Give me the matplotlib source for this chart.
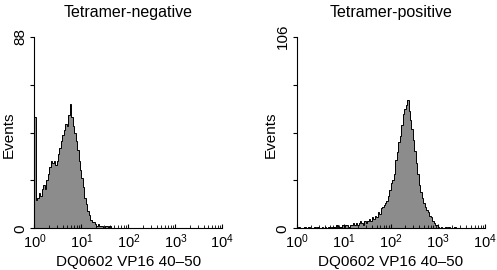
import numpy as np
import matplotlib
matplotlib.use("Agg")
import matplotlib.pyplot as plt
from matplotlib.ticker import LogLocator, NullFormatter, FixedLocator

plt.rcParams['font.family'] = ['Liberation Sans', 'DejaVu Sans']
plt.rcParams['mathtext.fontset'] = 'custom'
plt.rcParams['mathtext.rm'] = 'Liberation Sans'

# Histogram counts per channel (32 channels per decade, starting at 10^0)
neg_counts = [51, 13, 14, 16, 15, 18, 20, 18, 22, 25, 28, 31, 30, 31, 29, 31,
              34, 37, 40, 43, 45, 48, 47, 52, 57, 51, 47, 44, 40, 36, 31, 27,
              23, 19, 14, 11, 8, 6, 4, 3, 3, 2, 1, 2, 1, 1, 1, 0, 1, 1, 0, 1, 0]
pos_counts = [0, 1, 0, 0, 0, 1, 0, 0, 1, 0, 0, 0, 1, 0, 1, 0, 0, 1, 0, 1, 0, 1,
              1, 0, 1, 1, 1, 2, 1, 1, 1, 2, 1, 2, 2, 1, 2, 2, 3, 2, 3, 2, 3, 4,
              3, 2, 4, 3, 4, 5, 4, 6, 5, 7, 6, 9, 8, 11, 12, 13, 14, 15, 18, 21,
              25, 27, 30, 38, 42, 48, 51, 57, 63, 66, 68, 71, 65, 60, 55, 49, 43,
              36, 30, 24, 20, 17, 14, 12, 10, 9, 7, 6, 4, 3, 2, 2, 1, 0, 1, 0, 0,
              1, 0, 1, 0, 0, 0, 1, 0, 0, 0]
titles = ["Tetramer-negative", "Tetramer-positive"]
ymax_vals = [88, 106]
xlabel = "DQ0602 VP16 40\u201350"
ylabel = "Events"
channels_per_decade = 32

fig = plt.figure(figsize=(4.97, 2.70), dpi=100)
axes = [fig.add_axes([0.0694, 0.1544, 0.378, 0.7096]),
        fig.add_axes([0.597, 0.1544, 0.379, 0.7096])]

for ax, counts, title, ymax in zip(axes, [neg_counts, pos_counts], titles, ymax_vals):
    n = len(counts)
    edges = 10 ** (np.arange(n + 1) / channels_per_decade)
    ax.stairs(counts, edges, fill=True, color='#8c8c8c', lw=0)
    ax.stairs(counts, edges, color='black', lw=0.7)
    ax.set_xscale('log')
    ax.set_xlim(1, 1e4)
    ax.set_ylim(0, ymax)
    for s in ['top', 'right']:
        ax.spines[s].set_visible(False)
    for s in ['left', 'bottom']:
        ax.spines[s].set_linewidth(0.8)
    ax.xaxis.set_major_locator(LogLocator(base=10, numticks=10))
    ax.xaxis.set_minor_locator(LogLocator(base=10, subs=np.arange(2, 10), numticks=10))
    ax.xaxis.set_minor_formatter(NullFormatter())
    ax.tick_params(axis='x', which='major', direction='in', length=3, width=0.8,
                   labelsize=10.5, pad=3)
    ax.tick_params(axis='x', which='minor', direction='in', length=2, width=0.6)
    ax.yaxis.set_major_locator(FixedLocator([0, ymax / 4, ymax / 2, 3 * ymax / 4, ymax]))
    ax.set_yticklabels([str(0), '', '', '', str(ymax)], rotation=90, va='center')
    ax.tick_params(axis='y', direction='out', length=3, width=0.8, labelsize=11, pad=2)
    ax.set_title(title, fontsize=11.5, pad=14)
    ax.set_xlabel(xlabel, fontsize=11, labelpad=3)
    ax.set_ylabel(ylabel, fontsize=11, va='center')
    ax.yaxis.set_label_coords(-26.0 / 188.0, 0.49)

fig.savefig("out.png", dpi=100)
